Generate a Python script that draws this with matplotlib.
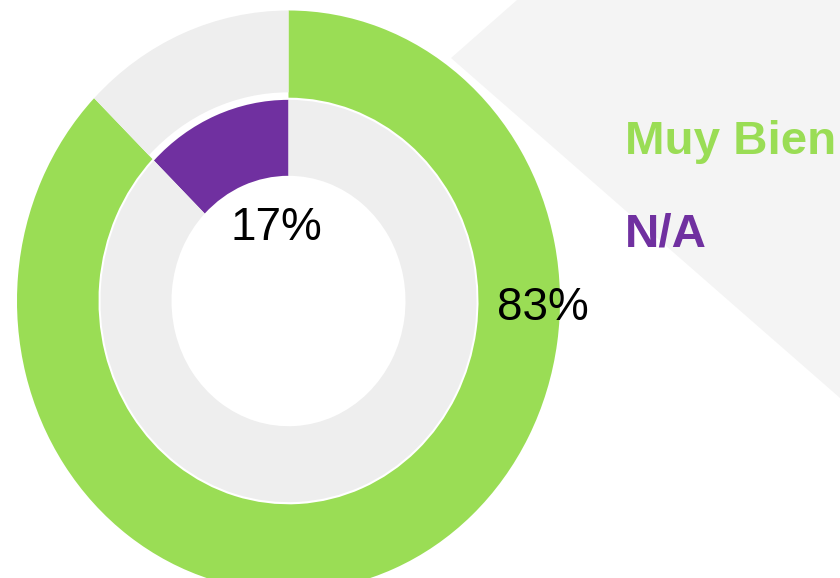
import matplotlib
matplotlib.use("Agg")
import matplotlib.pyplot as plt
from matplotlib.patches import Polygon

plt.rcParams['font.family'] = ['Liberation Sans', 'DejaVu Sans']

# legend entries and the printed percentages
categories = ["Muy Bien", "N/A"]
label_pct = [83, 17]
# share of the ring each arc covers
outer_share = [87.3, 12.7]   # green, grey remainder
inner_share = [12.7, 87.3]   # purple, grey remainder

green = "#9ADD55"
purple = "#7030A0"
grey = "#EEEEEE"

W, H = 840, 578
stretch = 1.07  # the rings are a bit taller than wide


def px(x, y):
    # pixel position (origin top-left) -> data coords
    return x, (H - y) / stretch


fig = plt.figure(figsize=(W / 100, H / 100), dpi=100)
ax = fig.add_axes([0, 0, 1, 1])

# light grey backdrop shape on the right
bg = Polygon([px(517, 0), px(451, 58), px(840, 398), px(840, 0)],
             closed=True, facecolor="#F4F4F4", edgecolor="none", zorder=0)
ax.add_patch(bg)

cx, cy = px(288.5, 301)

outer, _ = ax.pie(outer_share, colors=[green, grey], radius=271.5,
                  center=(cx, cy), startangle=90, counterclock=False,
                  wedgeprops=dict(width=271.5 - 190, linewidth=0))
outer[1].set_width(271.5 - 195)

inner, _ = ax.pie(inner_share, colors=[purple, grey], radius=188,
                  center=(cx, cy), startangle=90, counterclock=True,
                  wedgeprops=dict(width=188 - 117, linewidth=0))

ax.set_xlim(0, W)
ax.set_ylim(0, H / stretch)
ax.set_aspect("auto")
ax.axis("off")

# percentages on the rings
ax.text(*px(543, 320), f"{label_pct[0]}%", fontsize=33, color="black",
        ha="center", va="baseline")
ax.text(*px(276, 240), f"{label_pct[1]}%", fontsize=33, color="black",
        ha="center", va="baseline")

# legend as coloured words
ax.text(*px(625, 154), categories[0], fontsize=34.2, fontweight="bold",
        color=green, ha="left", va="baseline")
ax.text(*px(625, 247), categories[1], fontsize=34.2, fontweight="bold",
        color=purple, ha="left", va="baseline")

fig.savefig("out.png", dpi=100)
